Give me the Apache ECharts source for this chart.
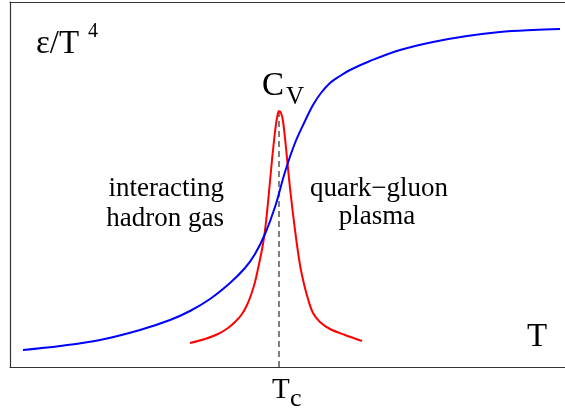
<!DOCTYPE html>
<html>
<head>
<meta charset="utf-8">
<script src="https://cdn.jsdelivr.net/npm/echarts@6/dist/echarts.min.js"></script>
<style>
html,body{margin:0;padding:0;background:#fff;}
#chart{width:565px;height:411px;}
</style>
</head>
<body>
<div id="chart"></div>
<script>
// Energy density curve (eps/T^4) vs T, arbitrary units
const blueT = [13,50,90,130,160,180,200,220,235,245,255,265,275,285,295,303,311,320,330,340,360,390,423,457,490,523,550];
const blueE = [17,21,27,37,47,56,68,84,99,113,133,160,195,224,246,262,274,284,291,297,306,317,325,331,335,337,338];
// Specific heat C_V vs T
const redT = [180,195,208,218,226,232,237,241,245,249,253,256,259,262,265,267,269,271,273,276,280,285,290,294,298,303,310,320,335,352];
const redC = [24,28,33,39,46,53,62,72,85,103,123,145,175,207,235,249,256,254,246,219,179,137,102,83,68,54,45,38,32,26];
// Critical temperature marker
const Tc = 269;
const TcTop = 256;
const xRange = [0, 555];
const yRange = [0, 365];

const chart = echarts.init(document.getElementById('chart'));
const font = '"Liberation Serif","DejaVu Serif",serif';
function txt(text, x, y, size, align){
  return {type:'text', style:{text:text, x:x, y:y, fontSize:size, fontFamily:font, fill:'#000', align:align||'left', verticalAlign:'middle'}};
}
const frameLine = {show:true, onZero:false, lineStyle:{color:'#333', width:1.2}};
const hidden = {axisTick:{show:false}, axisLabel:{show:false}, splitLine:{show:false}};
chart.setOption({
  animation:false,
  grid:{left:10, right:-4, top:2, bottom:44},
  xAxis:[
    Object.assign({type:'value', position:'bottom', min:xRange[0], max:xRange[1], axisLine:frameLine}, hidden),
    Object.assign({type:'value', position:'top', min:xRange[0], max:xRange[1], axisLine:frameLine}, hidden)
  ],
  yAxis:Object.assign({type:'value', position:'left', min:yRange[0], max:yRange[1], axisLine:frameLine}, hidden),
  series:[
    {type:'line', name:'Tc', data:[[Tc,0],[Tc,TcTop]], symbol:'none', lineStyle:{color:'#555', width:1.5, type:[6,4]}, z:1},
    {type:'line', name:'eps', data:blueT.map((t,i)=>[t,blueE[i]]), symbol:'none', smooth:0.35, lineStyle:{color:'#0000ff', width:2}, z:3},
    {type:'line', name:'cv', data:redT.map((t,i)=>[t,redC[i]]), symbol:'none', smooth:0.35, lineStyle:{color:'#ff0000', width:2}, z:2}
  ],
  graphic:[
    txt('ε/T', 36, 44, 33),
    txt('4', 88, 32, 20),
    txt('C', 262, 86, 33),
    txt('V', 286, 97, 25),
    txt('interacting', 224, 189, 27, 'right'),
    txt('hadron gas', 224, 219, 27, 'right'),
    txt('quark−gluon', 379, 189, 27, 'center'),
    txt('plasma', 377, 217, 27, 'center'),
    txt('T', 527, 337, 33),
    txt('T', 272, 390, 29),
    txt('c', 290, 399, 26)
  ]
});
</script>
</body>
</html>
